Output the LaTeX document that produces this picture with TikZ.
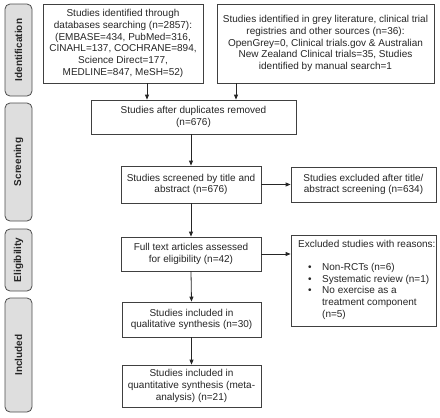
\documentclass[tikz,border=0pt]{standalone}
\usepackage{fontspec}
\setmainfont{Liberation Sans}
\usetikzlibrary{arrows.meta}
\begin{document}
\begin{tikzpicture}[x=1pt,y=-1pt,
  box/.style={draw=black!75,line width=0.8pt,fill=white,inner sep=1pt,align=center,font=\fontsize{10}{11.7}\selectfont,text=black!85},
  phase/.style={draw=black!70,line width=0.8pt,fill=black!13,rounded corners=5pt,minimum width=27pt,inner sep=0pt,font=\fontsize{10}{12}\selectfont\bfseries,text=black!85},
  arr/.style={-{Triangle[length=5pt,width=4pt]},line width=0.8pt,black!85}]
\useasboundingbox (0,0) rectangle (440,418);
% phase labels
\node[phase,minimum height=92pt] (pid) at (18.5,50) {\rotatebox{90}{Identification}};
\node[phase,minimum height=118pt] (psc) at (18.5,162) {\rotatebox{90}{Screening}};
\node[phase,minimum height=62pt] (pel) at (18.5,260) {\rotatebox{90}{Eligibility}};
\node[phase,minimum height=114pt] (pin) at (18.5,355) {\rotatebox{90}{Included}};
% boxes
\node[box,minimum width=160pt,minimum height=79pt] (db) at (123,43.5)
 {Studies identified through\\databases searching (n=2857):\\(EMBASE=434, PubMed=316,\\CINAHL=137, COCHRANE=894,\\Science Direct=177,\\MEDLINE=847, MeSH=52)};
\node[box,minimum width=217pt,minimum height=79pt] (grey) at (325.5,43.5)
 {Studies identified in grey literature, clinical trial\\registries and other sources (n=36):\\OpenGrey=0, Clinical trials.gov \& Australian\\New Zealand Clinical trials=35, Studies\\identified by manual search=1};
\node[box,minimum width=205pt,minimum height=34pt] (dup) at (193.5,117)
 {Studies after duplicates removed\\(n=676)};
\node[box,minimum width=140pt,minimum height=37pt] (scr) at (191,184.5)
 {Studies screened by title and\\abstract (n=676)};
\node[box,minimum width=145pt,minimum height=35pt] (exc) at (363.5,184.5)
 {Studies excluded after title/\\abstract screening (n=634)};
\node[box,minimum width=140pt,minimum height=34pt] (full) at (191,254)
 {Full text articles assessed\\for eligibility (n=42)};
\node[box,minimum width=145pt,minimum height=91pt] (rea) at (363.5,280.5) {};
\node[anchor=north west,inner sep=0pt,font=\fontsize{10}{11.7}\selectfont,text=black!85] (reat) at (298,240)
 {Excluded studies with reasons:};
\node[anchor=north west,inner sep=0pt,font=\fontsize{10}{11.7}\selectfont,text=black!85,align=left] (real) at (308,262)
 {\begin{tabular}{@{}p{14pt}@{}l@{}}
 \textbullet & Non-RCTs (n=6)\\
 \textbullet & Systematic review (n=1)\\
 \textbullet & No exercise as a\\
  & treatment component\\
  & (n=5)
 \end{tabular}};
\node[box,minimum width=139pt,minimum height=35pt] (qual) at (191.5,319.5)
 {Studies included in\\qualitative synthesis (n=30)};
\node[box,minimum width=139pt,minimum height=42pt] (quant) at (191.5,386)
 {Studies included in\\quantitative synthesis (meta-\\analysis) (n=21)};
% arrows
\coordinate (a1) at (147,83);
\coordinate (a2) at (236,83);
\draw[arr] (a1) -- (a1 |- dup.north);
\draw[arr] (a2) -- (a2 |- dup.north);
\draw[arr] (dup.south -| scr.north) -- (scr.north);
\draw[arr] (scr.east) -- (exc.west);
\draw[arr] (scr.south) -- (full.north);
\draw[arr] (full.east) -- (full.east -| rea.west);
\draw[arr] (full.south) -- (qual.north);
\draw[arr] (qual.south) -- (quant.north);
\end{tikzpicture}
\end{document}
